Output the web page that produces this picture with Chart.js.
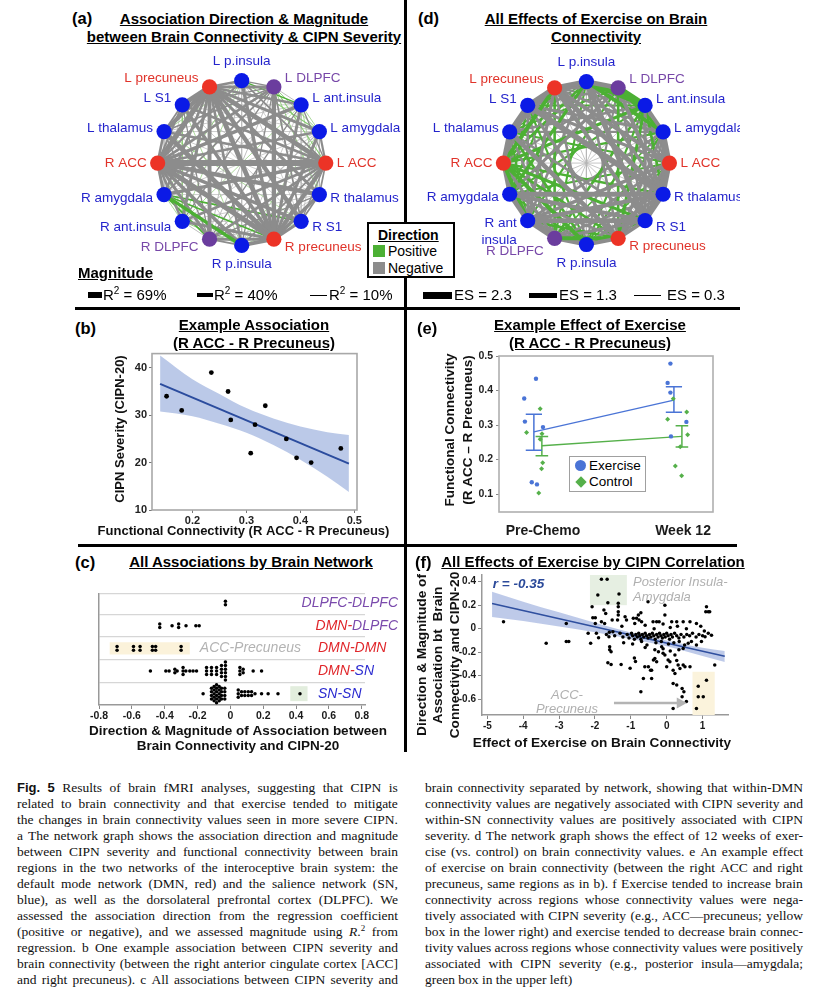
<!DOCTYPE html>
<html>
<head>
<meta charset="utf-8">
<script src="https://cdn.jsdelivr.net/npm/chart.js@4.4.1/dist/chart.umd.min.js"></script>
<style>
html,body{margin:0;padding:0;background:#fff;}
#page{position:relative;width:820px;height:998px;overflow:hidden;background:#fff;font-family:"Liberation Sans",Arial,Helvetica,sans-serif;color:#000;}
#page canvas{position:absolute;}
.t{position:absolute;white-space:nowrap;}
.ttl{font-weight:bold;font-size:15px;line-height:17.5px;text-decoration:underline;text-align:center;transform:translateX(-50%);}
.pl{font-weight:bold;font-size:16.5px;line-height:20px;}
.bar{position:absolute;background:#000;}
.lg{font-size:15px;line-height:16px;}
.lg sup{font-size:10px;line-height:0;vertical-align:6px;}
.cap{position:absolute;font-family:"Liberation Serif","Times New Roman",serif;font-size:13.5px;line-height:16px;color:#111;}
.cap .ln{display:flex;justify-content:space-between;height:16px;white-space:nowrap;}
.cap .ln.last{display:block;}
.cap b{font-family:"Liberation Sans",Arial,sans-serif;font-weight:bold;font-size:13px;}
.cap sup{font-size:9px;line-height:0;vertical-align:5px;}
.dirbox{position:absolute;left:367px;top:222px;width:84px;height:52px;border:2px solid #000;background:#fff;z-index:5;}
.sq{position:absolute;width:12px;height:12px;}
.elg{position:absolute;left:569px;top:456px;width:75px;height:34px;border:1.5px solid #a0a0a0;background:#fff;z-index:5;}
</style>
</head>
<body>
<div id="page">
  <!-- dividers -->
  <div class="bar" style="left:404px;top:0;width:3px;height:752px;"></div>
  <div class="bar" style="left:75px;top:307px;width:665px;height:3px;"></div>
  <div class="bar" style="left:78px;top:544px;width:659px;height:3px;"></div>

  <!-- panel labels and titles -->
  <div class="t pl" style="left:72px;top:8px;">(a)</div>
  <div class="t ttl" style="left:244px;top:10px;">Association Direction &amp; Magnitude<br>between Brain Connectivity &amp; CIPN Severity</div>
  <div class="t pl" style="left:418px;top:8px;">(d)</div>
  <div class="t ttl" style="left:596px;top:10px;">All Effects of Exercise on Brain<br>Connectivity</div>
  <div class="t pl" style="left:75px;top:318px;">(b)</div>
  <div class="t ttl" style="left:254px;top:316px;">Example Association<br>(R ACC - R Precuneus)</div>
  <div class="t pl" style="left:417px;top:318px;">(e)</div>
  <div class="t ttl" style="left:590px;top:316px;">Example Effect of Exercise<br>(R ACC - R Precuneus)</div>
  <div class="t pl" style="left:75px;top:552px;">(c)</div>
  <div class="t ttl" style="left:251px;top:553px;">All Associations by Brain Network</div>
  <div class="t pl" style="left:415px;top:552px;">(f)</div>
  <div class="t ttl" style="left:593px;top:553px;">All Effects of Exercise by CIPN Correlation</div>

  <!-- (a) legends -->
  <div class="t" style="left:78px;top:264px;font-weight:bold;font-size:15px;text-decoration:underline;">Magnitude</div>
  <div class="bar" style="left:88px;top:292px;width:14px;height:6px;"></div>
  <div class="t lg" style="left:103px;top:287px;">R<sup>2</sup> = 69%</div>
  <div class="bar" style="left:197px;top:293px;width:16px;height:4px;"></div>
  <div class="t lg" style="left:214px;top:287px;">R<sup>2</sup> = 40%</div>
  <div class="bar" style="left:310px;top:294.5px;width:17px;height:1px;"></div>
  <div class="t lg" style="left:329px;top:287px;">R<sup>2</sup> = 10%</div>
  <div class="dirbox">
    <div class="t" style="left:9px;top:3px;font-weight:bold;font-size:14px;text-decoration:underline;">Direction</div>
    <div class="sq" style="left:4px;top:21px;background:#4cb034;"></div>
    <div class="t" style="left:19px;top:19px;font-size:14px;">Positive</div>
    <div class="sq" style="left:4px;top:38px;background:#8c8c8c;"></div>
    <div class="t" style="left:19px;top:36px;font-size:14px;">Negative</div>
  </div>
  <!-- (d) legend -->
  <div class="bar" style="left:423px;top:291.5px;width:29px;height:7px;"></div>
  <div class="t lg" style="left:454px;top:287px;">ES = 2.3</div>
  <div class="bar" style="left:529px;top:293px;width:28px;height:4.5px;"></div>
  <div class="t lg" style="left:559px;top:287px;">ES = 1.3</div>
  <div class="bar" style="left:634px;top:294.5px;width:27px;height:1px;"></div>
  <div class="t lg" style="left:667px;top:287px;">ES = 0.3</div>

  <!-- (e) legend -->
  <div class="elg">
    <div style="position:absolute;left:5px;top:3px;width:11px;height:11px;border-radius:50%;background:#4a74d6;"></div>
    <div class="t" style="left:19px;top:1px;font-size:13.5px;line-height:16px;">Exercise</div>
    <div style="position:absolute;left:6.5px;top:21px;width:8px;height:8px;transform:rotate(45deg);background:#55b04a;"></div>
    <div class="t" style="left:19px;top:17px;font-size:13.5px;line-height:16px;">Control</div>
  </div>
</div>

<script>
// ---------------- DATA ----------------
// brain regions, placed around the circle in this order (index k -> angle k*22.5deg)
const NODE_NAMES = ['L ACC','L amygdala','L ant.insula','L DLPFC','L p.insula','L precuneus','L S1','L thalamus',
                    'R ACC','R amygdala','R ant.insula','R DLPFC','R p.insula','R precuneus','R S1','R thalamus'];
const NODE_NAMES_D = ['L ACC','L amygdala','L ant.insula','L DLPFC','L p.insula','L precuneus','L S1','L thalamus',
                    'R ACC','R amygdala',['R ant','insula'],'R DLPFC','R p.insula','R precuneus','R S1','R thalamus'];
const NODE_NET = ['DMN','SN','SN','DLPFC','SN','DMN','SN','SN','DMN','SN','SN','DLPFC','SN','DMN','SN','SN'];

// (a) signed R^2 (%) between node i and nodes j>i (positive = green, negative = gray)
const A_ASSOC = [
  [-25,-15, 12,-20,-55,-30,-30,-69,-40,-30,-30,-20,-50,-15,-20],
  [  8, 10, 12,-35, -8, -8,-30, -8, -6,-12,  6,-35, -6, -8],
  [-10, 15,-30, -6, -6,-40, -6,  8,-15, -6,-35, -8,  6],
  [-15,-35,-15,-20,-30,-20,-15,-10,-15,-50,-20, 10],
  [-30, -8,  8,-25, 10,  8,-10, -6,-40, -6, -8],
  [-55,-50,-60,-30,-35,-45,-30,-55,-50,-35],
  [-20,-25, -6,  6,-15,  8,-40, -6, -8],
  [-30, -8, -6,-15, -8,-55,  8, -6],
  [-35,-30,-35,-40,-60,-40,-50],
  [  8, 20, 40, 18, 20, -8],
  [-10, 10,-35, -6, -6],
  [-20,-35,-10,-15],
  [-45,  8, -8],
  [-35,-40],
  [-20]
];
// (d) signed effect size of exercise between node i and nodes j>i
const D_EFFECT = [
  [-1.8,-1.0,-0.8,-1.0,-1.5,-1.2, 0.8,-0.3, 0.8,-1.3,-1.0, 0.6,-1.5,-1.6,-1.8],
  [-1.5, 1.2, 1.4,-1.0,-1.2,-0.8, 0.9,-0.3,-1.0, 0.6, 0.8,-1.2,-0.8,-1.5],
  [ 2.2, 1.8,-0.8, 0.8,-1.0, 1.2, 0.8,-0.3, 1.0, 0.8, 1.2,-1.2, 1.0],
  [-1.8,-1.2,-1.0, 0.8,-0.8,-1.2, 0.8,-0.3,-0.8, 1.0,-1.0,-1.5],
  [-1.8,-1.2, 0.6, 1.0, 1.2,-1.0, 0.8,-0.3,-1.0,-2.0,-1.2],
  [-1.8,-1.5, 1.5, 0.8,-1.2, 1.0,-1.0,-0.3,-1.5,-2.0],
  [-1.8,-1.2, 0.9,-1.0,-0.8, 0.8,-1.2,-0.3,-2.2],
  [-1.8,-1.2, 0.8,-1.0, 1.0,-1.8,-1.0,-0.3],
  [-1.5, 1.5,-1.2, 1.5, 1.0, 1.2, 0.9],
  [-1.8,-1.2, 0.8,-1.0,-1.5,-2.0],
  [-1.8,-1.2, 1.0,-1.8,-1.5],
  [-1.5, 1.5,-1.2,-1.0],
  [-1.5, 0.8,-1.2],
  [-1.5,-1.0],
  [-1.8]
];

// (b) example association
const B_FC   = [0.152,0.180,0.235,0.266,0.271,0.308,0.316,0.335,0.374,0.393,0.420,0.475];
const B_CIPN = [34,31,39,35,29,22,28,32,25,21,20,23];
const B_FIT_X = [0.14,0.49];
const B_FIT_Y = [36.6,19.8];
const B_BAND_X  = [0.14,0.20,0.25,0.30,0.35,0.40,0.45,0.49];
const B_BAND_HI = [42.6,37.6,34.5,31.5,29.3,27.6,26.4,25.8];
const B_BAND_LO = [30.8,29.8,28.2,26.3,23.7,20.6,17.0,13.8];
const B_X_TICKS = [0.2,0.3,0.4,0.5];
const B_X_LABELS = ['0.2','0.3','0.4','0.5'];
const B_Y_TICKS = [10,20,30,40];
const B_Y_LABELS = ['10','20','30','40'];

// (e) example effect of exercise
const E_GROUPS = ['Pre-Chemo','Week 12'];
const EX_PRE = [0.377,0.310,0.434,0.134,0.128,0.294];
const EX_PRE_JIT = [-0.134,-0.129,-0.050,-0.080,-0.043,0.000];
const EX_W12 = [0.478,0.422,0.394,0.309,0.267];
const EX_W12_JIT = [-0.090,-0.110,-0.090,0.024,-0.086];
const CT_PRE = [0.278,0.347,0.275,0.259,0.191,0.173,0.103];
const CT_PRE_JIT = [-0.117,-0.020,-0.007,-0.020,-0.002,-0.010,-0.030];
const CT_W12 = [0.376,0.317,0.338,0.272,0.237,0.181,0.153];
const CT_W12_JIT = [-0.070,-0.110,0.026,0.033,-0.020,-0.055,-0.010];
const EX_MEAN = [0.280,0.372], EX_HI = [0.331,0.411], EX_LO = [0.227,0.337];
const CT_MEAN = [0.240,0.267], CT_HI = [0.267,0.298], CT_LO = [0.211,0.236];
const E_Y_TICKS = [0.1,0.2,0.3,0.4,0.5];
const E_Y_LABELS = ['0.1','0.2','0.3','0.4','0.5'];

// (c) associations by network: [value, number of stacked dots]
const C_ROWS = ['SN-SN','DMN-SN','DMN-DMN','DMN-DLPFC','DLPFC-DLPFC'];
const C_SN_SN = [[-0.166,1],[-0.115,4],[-0.099,5],[-0.084,6],[-0.068,5],[-0.054,4],[-0.034,4],[0.048,3],[0.068,2],[0.088,2],[0.109,2],[0.129,2],[0.150,1],[0.190,1],[0.230,1],[0.290,1],[0.424,1]];
const C_DMN_SN = [[-0.487,1],[-0.393,1],[-0.373,1],[-0.338,2],[-0.324,1],[-0.288,3],[-0.271,1],[-0.247,1],[-0.227,1],[-0.206,1],[-0.145,3],[-0.115,3],[-0.084,3],[-0.054,4],[-0.030,6],[0.058,3],[0.078,2],[0.139,1],[0.190,1]];
const C_DMN_DMN = [[-0.69,2],[-0.59,2],[-0.55,2],[-0.475,2],[-0.455,2],[-0.30,2]];
const C_DMN_DLPFC = [[-0.43,2],[-0.355,1],[-0.315,2],[-0.27,1],[-0.21,1],[-0.19,1]];
const C_DLPFC_DLPFC = [[-0.03,2]];
const C_X_TICKS = [-0.8,-0.6,-0.4,-0.2,0,0.2,0.4,0.6,0.8];
const C_X_LABELS = ['-0.8','-0.6','-0.4','-0.2','0','0.2','0.4','0.6','0.8'];

// (f) effect of exercise (x) vs association with CIPN-20 (y)
const F_POINTS = [
 [-4.55,0.06],[-2.8,0.045],[-3.36,-0.125],[-2.8,-0.11],[-2.73,-0.11],[-2.19,-0.04],[-2.12,-0.125],[-2.08,0.187],
 [-2.06,0.093],[-1.99,0.093],[-1.99,0.045],[-1.96,-0.04],[-1.9,-0.077],[-1.92,0.287],[-1.82,0.42],[-1.66,0.42],
 [-1.75,0.158],[-1.7,0.13],[-1.82,0.059],[-1.73,0.045],[-1.64,0.22],[-1.61,-0.069],[-1.59,-0.154],[-1.59,-0.18],
 [-1.55,-0.197],[-1.64,-0.29],[-1.55,-0.304],[-1.5,-0.026],
 [-1.33,0.295],[-1.35,0.216],[-1.35,0.187],[-1.35,0.144],[-1.35,0.116],[-1.52,0.073],[-1.37,0.073],[-1.16,0.102],
 [-1.12,0.073],[-0.93,0.088],[-0.89,0.045],[-0.84,0.088],[-0.77,0.073],[-0.7,0.059],[-0.79,0.116],[-0.72,0.136],
 [-0.38,0.059],[-0.28,0.059],[-0.21,0.059],[-0.05,0.116],[-0.05,0.2],[0.14,0.059],[0.28,0.059],[0.46,0.059],
 [-0.52,0.23],[0.83,0.045],[1.11,0.187],[1.16,0.144],[1.2,0.144],[1.09,0.144],
 [-1.27,-0.304],[-1.02,-0.338],[-0.9,-0.25],[-0.87,-0.28],[-0.65,-0.424],[-0.61,-0.325],[-0.51,-0.325],[-0.42,-0.353],
 [-0.45,-0.353],[-0.37,-0.267],[-0.33,-0.253],[-0.28,-0.282],[-0.42,-0.424],[-0.72,-0.538],[-0.33,-0.18],[-0.23,-0.197],
 [-0.14,-0.154],[-0.1,-0.21],[-0.05,-0.225],[0.0,-0.325],[0.04,-0.267],[0.09,-0.282],[0.18,-0.353],[0.23,-0.381],
 [0.28,-0.27],[0.32,-0.31],[0.37,-0.34],[0.18,-0.466],[0.28,-0.48],[0.46,-0.31],[0.51,-0.325],[0.43,-0.51],
 [0.48,-0.538],[0.43,-0.58],[0.18,-0.68],[0.55,-0.62],[0.65,-0.325],[0.83,-0.68],[0.88,-0.49],[0.88,-0.58],
 [1.02,-0.58],[1.11,-0.44],[1.34,-0.31],[0.23,-0.225],[0.34,-0.18],[0.46,-0.168],
 [0.6,-0.125],[0.69,-0.11],[0.83,-0.14],[0.97,-0.11],[1.07,-0.069],[1.16,-0.04],[1.25,-0.055],
 [-1.68,-0.05],[-1.6,-0.03],[-1.45,-0.06],[-1.3,-0.04],[-1.22,-0.07],[-1.1,-0.05],[-1.05,-0.08],[-0.98,-0.04],
 [-0.95,-0.06],[-0.9,-0.09],[-0.86,-0.05],[-0.82,-0.07],[-0.78,-0.04],[-0.75,-0.06],[-0.72,-0.09],[-0.68,-0.05],
 [-0.64,-0.07],[-0.6,-0.04],[-0.56,-0.06],[-0.52,-0.08],[-0.48,-0.05],[-0.44,-0.07],[-0.4,-0.04],[-0.36,-0.06],
 [-0.32,-0.09],[-0.28,-0.05],[-0.24,-0.07],[-0.2,-0.04],[-0.16,-0.06],[-0.12,-0.08],[-0.08,-0.05],[-0.04,-0.07],
 [0.0,-0.04],[0.04,-0.06],[0.08,-0.09],[0.12,-0.05],[0.16,-0.07],[0.22,-0.04],[0.28,-0.06],[0.34,-0.08],
 [0.4,-0.05],[0.48,-0.07],[0.56,-0.05],[0.64,-0.06],[0.72,-0.04],[0.82,-0.07],[0.9,-0.05],[1.0,-0.06],
 [-1.2,-0.12],[-0.95,-0.13],[-0.7,-0.11],[-0.55,-0.14],[-0.3,-0.12],[-0.15,-0.11],[0.05,-0.13],[0.2,-0.12],
 [0.35,-0.11],[0.5,-0.14],[-0.6,-0.16],[-0.1,-0.17],[0.1,-0.19],
 [-1.25,0.02],[-0.6,0.03],[-0.35,0.0],[0.1,0.01],[0.3,0.02],[0.55,0.0],[-0.1,0.04],[0.65,0.06],[0.95,0.02],[1.05,-0.02]
];
const F_FIT_X = [-4.87,1.62];
const F_FIT_Y = [0.215,-0.235];
const F_BAND_X  = [-4.87,-4,-3,-2,-1,0,1,1.62];
const F_BAND_HI = [0.315,0.23,0.139,0.05,-0.033,-0.100,-0.163,-0.190];
const F_BAND_LO = [0.100,0.066,0.019,-0.03,-0.087,-0.150,-0.233,-0.283];
const F_R_LABEL = 'r = -0.35';
const F_X_TICKS = [-5,-4,-3,-2,-1,0,1];
const F_X_LABELS = ['-5','-4','-3','-2','-1','0','1'];
const F_Y_TICKS = [-0.6,-0.4,-0.2,0,0.2,0.4];
const F_Y_LABELS = ['-0.6','-0.4','-0.2','0','0.2','0.4'];

// caption
const CAP_L = [
 '<b>Fig.</b> <b>5</b> Results of brain fMRI analyses, suggesting that CIPN is',
 'related to brain connectivity and that exercise tended to mitigate',
 'the changes in brain connectivity values seen in more severe CIPN.',
 'a The network graph shows the association direction and magnitude',
 'between CIPN severity and functional connectivity between brain',
 'regions in the two networks of the interoceptive brain system: the',
 'default mode network (DMN, red) and the salience network (SN,',
 'blue), as well as the dorsolateral prefrontal cortex (DLPFC). We',
 'assessed the association direction from the regression coefficient',
 '(positive or negative), and we assessed magnitude using <i>R</i>.<sup>2</sup> from',
 'regression. b One example association between CIPN severity and',
 'brain connectivity (between the right anterior cingulate cortex [ACC]',
 'and right precuneus). c All associations between CIPN severity and'
];
const CAP_R = [
 'brain connectivity separated by network, showing that within-DMN',
 'connectivity values are negatively associated with CIPN severity and',
 'within-SN connectivity values are positively associated with CIPN',
 'severity. d The network graph shows the effect of 12 weeks of exer-',
 'cise (vs. control) on brain connectivity values. e An example effect',
 'of exercise on brain connectivity (between the right ACC and right',
 'precuneus, same regions as in b). f Exercise tended to increase brain',
 'connectivity across regions whose connectivity values were nega-',
 'tively associated with CIPN severity (e.g., ACC\u2014precuneus; yellow',
 'box in the lower right) and exercise tended to decrease brain connec-',
 'tivity values across regions whose connectivity values were positively',
 'associated with CIPN severity (e.g., posterior insula\u2014amygdala;',
 'green box in the upper left)'
];

// ---------------- STYLE / HELPERS ----------------
const FONT = "'Liberation Sans', Arial, Helvetica, sans-serif";
Chart.defaults.font.family = FONT;
Chart.defaults.color = '#1a1a1a';
Chart.defaults.animation = false;
Chart.defaults.events = [];
Chart.defaults.plugins.legend.display = false;
Chart.defaults.plugins.tooltip.enabled = false;

const NODE_COLOR = {DMN:'#ec3326', SN:'#0b1ae6', DLPFC:'#6b3d9e'};
const LABEL_COLOR = {DMN:'#e0332a', SN:'#2424cc', DLPFC:'#7747a8'};
const NET_TEXT = {DMN:'#e0262a', SN:'#2b2bd0', DLPFC:'#7a4aac'};
const POS_COLOR = '#4cb034', POS_LIGHT = '#86c970';
const NEG_COLOR = '#8c8c8c', NEG_LIGHT = '#b4b4b4';
const page = document.getElementById('page');

function mk(L,T,W,H){
  const c = document.createElement('canvas');
  c.width = W; c.height = H;
  c.style.left = L+'px'; c.style.top = T+'px'; c.style.width = W+'px'; c.style.height = H+'px';
  page.insertBefore(c, page.firstChild);
  return c;
}
function frame(L,T,W,H,x1,y1,x2,y2){
  return {padding:{left:0,top:y1-T,right:L+W-x2,bottom:0}, yw:x1-L, xh:T+H-y2};
}
function fixedTicks(vals){ return function(s){ s.ticks = vals.map(v=>({value:v})); }; }
const boxPlugin = (color,w)=>({id:'box', afterDatasetsDraw(chart){
  const a = chart.chartArea, ctx = chart.ctx; ctx.save(); ctx.strokeStyle = color; ctx.lineWidth = w;
  ctx.strokeRect(a.left, a.top, a.right-a.left, a.bottom-a.top); ctx.restore(); }});
// axis titles drawn at page positions (cx, cy = centre of the text block), no width squeezing
function axisTitles(L,T,items){
  return {id:'axisTitles', afterDraw(chart){
    const ctx = chart.ctx;
    items.forEach(it=>{
      ctx.save();
      ctx.font = it.font; ctx.fillStyle = '#111'; ctx.textAlign = 'center'; ctx.textBaseline = 'middle';
      ctx.translate(it.cx-L, it.cy-T);
      if (it.rot) ctx.rotate(-Math.PI/2);
      const n = it.lines.length;
      it.lines.forEach((t,i)=>ctx.fillText(t, 0, (i-(n-1)/2)*it.lh));
      ctx.restore();
    });
  }};
}
function annotPlugin(spec){
  return {id:'annot',
    beforeDatasetsDraw(chart){
      const xs = chart.scales.x, ys = chart.scales.y, ctx = chart.ctx; ctx.save();
      (spec.rects||[]).forEach(r=>{
        const x0 = xs.getPixelForValue(r.x0), x1 = xs.getPixelForValue(r.x1);
        const y0 = ys.getPixelForValue(r.y1), y1 = ys.getPixelForValue(r.y0);
        ctx.fillStyle = r.color; ctx.fillRect(x0, y0, x1-x0, y1-y0);
      });
      ctx.restore();
    },
    afterDatasetsDraw(chart){
      const xs = chart.scales.x, ys = chart.scales.y, ctx = chart.ctx; ctx.save();
      (spec.arrows||[]).forEach(a=>{
        const x0 = xs.getPixelForValue(a.x0), x1 = xs.getPixelForValue(a.x1), y = ys.getPixelForValue(a.y);
        ctx.strokeStyle = a.color; ctx.fillStyle = a.color; ctx.lineWidth = 2.5;
        ctx.beginPath(); ctx.moveTo(x0,y); ctx.lineTo(x1-8,y); ctx.stroke();
        ctx.beginPath(); ctx.moveTo(x1,y); ctx.lineTo(x1-10,y-5.5); ctx.lineTo(x1-10,y+5.5); ctx.closePath(); ctx.fill();
      });
      (spec.texts||[]).forEach(t=>{
        ctx.font = t.font; ctx.fillStyle = t.color; ctx.textAlign = t.align||'left'; ctx.textBaseline = 'middle';
        ctx.fillText(t.text, xs.getPixelForValue(t.x), ys.getPixelForValue(t.y));
      });
      ctx.restore();
    }};
}

// ---------------- NETWORK GRAPHS (a) and (d) ----------------
function networkChart(L,T,W,H,cx,cy,R,names,matrix,unitWidth,nudge){
  const n = names.length;
  const nodes = names.map((_,k)=>({x:Math.cos(2*Math.PI*k/n), y:Math.sin(2*Math.PI*k/n)}));
  const edges = [];
  matrix.forEach((row,i)=>row.forEach((v,m)=>edges.push({a:i,b:i+1+m,v})));
  edges.sort((p,q)=>Math.abs(p.v)-Math.abs(q.v));
  const ds = edges.map((e,r)=>{
    const w = Math.max(0.7, Math.abs(e.v)*unitWidth);
    const thin = w < 1.3;
    return {
      type:'line', data:[nodes[e.a], nodes[e.b]],
      borderColor: e.v>0 ? (thin ? POS_LIGHT : POS_COLOR) : (thin ? NEG_LIGHT : NEG_COLOR),
      borderWidth: w, pointRadius:0, fill:false, tension:0, order: edges.length - r + 1
    };
  });
  ds.push({type:'scatter', data:nodes, pointRadius:7.6, pointBorderWidth:0,
           pointBackgroundColor: NODE_NET.map(k=>NODE_COLOR[k]), order:0});
  const labels = {id:'nodeLabels', afterDatasetsDraw(chart){
    const ctx = chart.ctx, xs = chart.scales.x, ys = chart.scales.y;
    ctx.save(); ctx.font = "13.5px "+FONT; ctx.textBaseline = 'middle';
    names.forEach((nm,k)=>{
      const c = nodes[k].x, s = nodes[k].y;
      const px = xs.getPixelForValue(c), py = ys.getPixelForValue(s);
      const lines = Array.isArray(nm) ? nm : [nm];
      let tx, ty;
      if (Math.abs(c) > 0.3){ ctx.textAlign = c>0 ? 'left' : 'right'; tx = px + (c>0 ? 11 : -11); ty = py - s*9; }
      else { ctx.textAlign = 'center'; tx = px; ty = py - s*19; }
      ty += (nudge && nudge[k]) || 0;
      ctx.fillStyle = LABEL_COLOR[NODE_NET[k]];
      const lh = 16.5, y0 = ty - (lines.length-1)*lh/2;
      lines.forEach((t,li)=>ctx.fillText(t, tx, y0 + li*lh));
    });
    ctx.restore();
  }};
  new Chart(mk(L,T,W,H), {
    type:'scatter',
    data:{datasets:ds},
    options:{responsive:false, maintainAspectRatio:false, layout:{padding:0},
      scales:{
        x:{type:'linear', display:false, min:-(cx-L)/R, max:(L+W-cx)/R},
        y:{type:'linear', display:false, min:-(T+H-cy)/R, max:(cy-T)/R}
      }},
    plugins:[labels]
  });
}
networkChart(66,45,339,238,242,163,88,NODE_NAMES,A_ASSOC,1/11.5,null);
networkChart(408,45,332,238,587,163,87,NODE_NAMES_D,D_EFFECT,2.6,{10:5,11:5});

// ---------------- (b) ----------------
(function(){
  const L=70,T=345,W=335,H=200, g = frame(L,T,W,H,152,353,357,510);
  new Chart(mk(L,T,W,H), {
    type:'scatter',
    data:{datasets:[
      {type:'line', data:B_BAND_X.map((x,i)=>({x,y:B_BAND_HI[i]})), borderWidth:0, pointRadius:0,
       fill:'+1', backgroundColor:'rgba(170,188,226,0.8)', cubicInterpolationMode:'monotone', order:3},
      {type:'line', data:B_BAND_X.map((x,i)=>({x,y:B_BAND_LO[i]})), borderWidth:0, pointRadius:0,
       fill:false, cubicInterpolationMode:'monotone', order:4},
      {type:'line', data:B_FIT_X.map((x,i)=>({x,y:B_FIT_Y[i]})), borderColor:'#2b4c9e', borderWidth:2, pointRadius:0, fill:false, order:2},
      {data:B_FC.map((x,i)=>({x,y:B_CIPN[i]})), pointRadius:2.4, pointBackgroundColor:'#000', pointBorderWidth:0, order:1}
    ]},
    options:{responsive:false, maintainAspectRatio:false, layout:{padding:g.padding},
      scales:{
        x:{type:'linear', min:0.125, max:0.505, afterBuildTicks:fixedTicks(B_X_TICKS), afterFit:s=>{s.height=g.xh;},
           ticks:{callback:(v,i)=>B_X_LABELS[i], font:{size:11,weight:'bold'}, padding:1, maxRotation:0, color:'#222'},
           grid:{drawOnChartArea:false, tickLength:3, color:'#777'}, border:{display:false}},
        y:{type:'linear', min:10, max:43, afterBuildTicks:fixedTicks(B_Y_TICKS), afterFit:s=>{s.width=g.yw;},
           ticks:{callback:(v,i)=>B_Y_LABELS[i], font:{size:11,weight:'bold'}, padding:2, color:'#222'},
           grid:{drawOnChartArea:false, tickLength:3, color:'#777'}, border:{display:false}}
      }},
    plugins:[boxPlugin('#a8a8a8',1.6), axisTitles(L,T,[
      {lines:['Functional Connectivity (R ACC - R Precuneus)'], cx:243.5, cy:531, font:"bold 13px "+FONT, lh:15},
      {lines:['CIPN Severity (CIPN-20)'], cx:120, cy:429, rot:true, font:"bold 13px "+FONT, lh:15}
    ])]
  });
})();

// ---------------- (e) ----------------
(function(){
  const L=420,T=345,W=315,H=200, g = frame(L,T,W,H,499,356,713,512);
  const EXO = -0.065, CTO = -0.008;
  const pts = (vals,jit,grp)=>vals.map((v,i)=>({x:grp+jit[i], y:v}));
  function errBars(off, hi, lo, cap){
    const out = [];
    [0,1].forEach(gi=>{
      const xc = gi+off;
      out.push({x:xc,y:lo[gi]},{x:xc,y:hi[gi]},{x:xc,y:null},
               {x:xc-cap,y:hi[gi]},{x:xc+cap,y:hi[gi]},{x:xc,y:null},
               {x:xc-cap,y:lo[gi]},{x:xc+cap,y:lo[gi]},{x:xc,y:null});
    });
    return out;
  }
  new Chart(mk(L,T,W,H), {
    type:'scatter',
    data:{datasets:[
      {type:'line', data:errBars(EXO,EX_HI,EX_LO,0.058), borderColor:'#4a74d6', borderWidth:1.5, pointRadius:0, spanGaps:false, fill:false, order:3},
      {type:'line', data:errBars(CTO,CT_HI,CT_LO,0.045), borderColor:'#55b04a', borderWidth:1.5, pointRadius:0, spanGaps:false, fill:false, order:3},
      {type:'line', data:EX_MEAN.map((m,i)=>({x:i+EXO,y:m})), borderColor:'#4a74d6', borderWidth:1.3, pointRadius:0, fill:false, order:2},
      {type:'line', data:CT_MEAN.map((m,i)=>({x:i+CTO,y:m})), borderColor:'#55b04a', borderWidth:1.3, pointRadius:0, fill:false, order:2},
      {data:pts(EX_PRE,EX_PRE_JIT,0).concat(pts(EX_W12,EX_W12_JIT,1)), pointRadius:2.2, pointBackgroundColor:'#4a74d6', pointBorderWidth:0, order:1},
      {data:pts(CT_PRE,CT_PRE_JIT,0).concat(pts(CT_W12,CT_W12_JIT,1)), pointStyle:'rectRot', pointRadius:2.5, pointBackgroundColor:'#55b04a', pointBorderWidth:0, order:1}
    ]},
    options:{responsive:false, maintainAspectRatio:false, layout:{padding:g.padding},
      scales:{
        x:{type:'linear', min:-0.314, max:1.214, afterBuildTicks:fixedTicks([0,1]), afterFit:s=>{s.height=g.xh;},
           ticks:{callback:(v,i)=>E_GROUPS[i], font:{size:14,weight:'bold'}, padding:3, maxRotation:0, color:'#1a1a1a'},
           grid:{display:false}, border:{display:false}},
        y:{type:'linear', min:0.048, max:0.5, afterBuildTicks:fixedTicks(E_Y_TICKS), afterFit:s=>{s.width=g.yw;},
           ticks:{callback:(v,i)=>E_Y_LABELS[i], font:{size:10.5,weight:'bold'}, padding:3, color:'#222'},
           grid:{drawOnChartArea:false, tickLength:3, color:'#888'}, border:{display:false}}
      }},
    plugins:[boxPlugin('#b0b0b0',1.6), axisTitles(L,T,[
      {lines:['Functional Connectivity','(R ACC \u2013 R Precuneus)'], cx:459, cy:430, rot:true, font:"bold 13.5px "+FONT, lh:18}
    ])]
  });
})();

// ---------------- (c) ----------------
(function(){
  const L=65,T=585,W=340,H=170, g = frame(L,T,W,H,99,594,365,705);
  const YMIN=0, YMAX=4.9;
  const step = 3.6*(YMAX-YMIN)/(705-594);
  const rowsData = [C_SN_SN, C_DMN_SN, C_DMN_DMN, C_DMN_DLPFC, C_DLPFC_DLPFC];
  const pts = [];
  rowsData.forEach((row,r)=>row.forEach(([v,cnt])=>{
    for (let k=0;k<cnt;k++) pts.push({x:v, y:r+0.5+(k-(cnt-1)/2)*step});
  }));
  const rowLabels = {id:'rowLabels', afterDatasetsDraw(chart){
    const ctx = chart.ctx, ys = chart.scales.y; ctx.save();
    ctx.font = "italic 14px "+FONT; ctx.textBaseline='middle'; ctx.textAlign='left';
    C_ROWS.forEach((name,r)=>{
      const parts = name.split('-');
      const segs = [{t:parts[0]+'-', c:NET_TEXT[parts[0]]},{t:parts[1], c:NET_TEXT[parts[1]]}];
      const w = segs.reduce((s,q)=>s+ctx.measureText(q.t).width,0);
      let x = Math.min(318-L, 398-L-w); const y = ys.getPixelForValue(r+0.5);
      segs.forEach(q=>{ ctx.fillStyle=q.c; ctx.fillText(q.t,x,y); x += ctx.measureText(q.t).width; });
    });
    ctx.restore();
  }};
  new Chart(mk(L,T,W,H), {
    type:'scatter',
    data:{datasets:[{data:pts, pointRadius:1.75, pointBackgroundColor:'#000', pointBorderWidth:0}]},
    options:{responsive:false, maintainAspectRatio:false, layout:{padding:g.padding},
      scales:{
        x:{type:'linear', min:-0.8, max:0.82, afterBuildTicks:fixedTicks(C_X_TICKS), afterFit:s=>{s.height=g.xh;},
           ticks:{callback:(v,i)=>C_X_LABELS[i], font:{size:10.5,weight:'bold'}, padding:1, maxRotation:0, color:'#1a1a1a'},
           grid:{drawOnChartArea:false, tickLength:4, color:'#888'}, border:{display:true, color:'#999', width:1.5}},
        y:{type:'linear', min:YMIN, max:YMAX, afterBuildTicks:fixedTicks([1,2,3,4,4.9]), afterFit:s=>{s.width=g.yw;},
           ticks:{display:false}, grid:{color:'#d6d6d6', lineWidth:1.3, drawTicks:false},
           border:{display:true, color:'#999', width:1.5}}
      }},
    plugins:[annotPlugin({
      rects:[{x0:-0.735,x1:-0.247,y0:2.23,y1:2.77,color:'#fbf2da'},
             {x0:0.365,x1:0.47,y0:0.17,y1:0.83,color:'#e2eddd'}],
      texts:[{x:-0.186,y:2.5,text:'ACC-Precuneus',color:'#b3b3b3',font:"italic 14px "+FONT}]
    }), rowLabels, axisTitles(L,T,[
      {lines:['Direction & Magnitude of Association between','Brain Connectivity and CIPN-20'], cx:238, cy:739, font:"bold 13.5px "+FONT, lh:14.5}
    ])]
  });
})();

// ---------------- (f) ----------------
(function(){
  const L=410,T=565,W=330,H=190, g = frame(L,T,W,H,482,575,728,715);
  new Chart(mk(L,T,W,H), {
    type:'scatter',
    data:{datasets:[
      {type:'line', data:F_BAND_X.map((x,i)=>({x,y:F_BAND_HI[i]})), borderWidth:0, pointRadius:0,
       fill:'+1', backgroundColor:'rgba(165,182,224,0.72)', cubicInterpolationMode:'monotone', order:3},
      {type:'line', data:F_BAND_X.map((x,i)=>({x,y:F_BAND_LO[i]})), borderWidth:0, pointRadius:0,
       fill:false, cubicInterpolationMode:'monotone', order:4},
      {type:'line', data:F_FIT_X.map((x,i)=>({x,y:F_FIT_Y[i]})), borderColor:'#2f4f9f', borderWidth:1.5, pointRadius:0, fill:false, order:2},
      {data:F_POINTS.map(p=>({x:p[0],y:p[1]})), pointRadius:1.75, pointBackgroundColor:'#000', pointBorderWidth:0, order:1}
    ]},
    options:{responsive:false, maintainAspectRatio:false, layout:{padding:g.padding},
      scales:{
        x:{type:'linear', min:-5.15, max:1.71, afterBuildTicks:fixedTicks(F_X_TICKS), afterFit:s=>{s.height=g.xh;},
           ticks:{callback:(v,i)=>F_X_LABELS[i], font:{size:10,weight:'bold'}, padding:1, maxRotation:0, color:'#1a1a1a'},
           grid:{drawOnChartArea:false, tickLength:4, color:'#888'}, border:{display:true, color:'#999', width:1.5}},
        y:{type:'linear', min:-0.735, max:0.457, afterBuildTicks:fixedTicks(F_Y_TICKS), afterFit:s=>{s.width=g.yw;},
           ticks:{callback:(v,i)=>F_Y_LABELS[i], font:{size:10,weight:'bold'}, padding:2, color:'#1a1a1a'},
           grid:{drawOnChartArea:false, tickLength:4, color:'#888'}, border:{display:true, color:'#999', width:1.5}}
      }},
    plugins:[annotPlugin({
      rects:[{x0:-2.14,x1:-1.11,y0:0.2,y1:0.457,color:'#e6efe2'},
             {x0:0.72,x1:1.34,y0:-0.735,y1:-0.367,color:'#fbf3dc'}],
      arrows:[{x0:-1.47,x1:0.56,y:-0.633,color:'#b4b4b4'}],
      texts:[{x:-4.85,y:0.382,text:F_R_LABEL,color:'#2b4a9a',font:"italic bold 13.5px "+FONT},
             {x:-0.94,y:0.397,text:'Posterior Insula-',color:'#b0b0b0',font:"italic 13px "+FONT},
             {x:-0.94,y:0.27,text:'Amygdala',color:'#b0b0b0',font:"italic 13px "+FONT},
             {x:-2.78,y:-0.566,text:'ACC-',color:'#b0b0b0',font:"italic 13px "+FONT,align:'center'},
             {x:-2.78,y:-0.685,text:'Precuneus',color:'#b0b0b0',font:"italic 13px "+FONT,align:'center'}]
    }), axisTitles(L,T,[
      {lines:['Effect of Exercise on Brain Connectivity'], cx:602, cy:743, font:"bold 13.6px "+FONT, lh:16},
      {lines:['Direction & Magnitude of','Association bt  Brain','Connectivity and CIPN-20'], cx:438.5, cy:655, rot:true, font:"bold 13.7px "+FONT, lh:16.5}
    ])]
  });
})();

// ---------------- caption ----------------
function capCol(lines, left, width){
  const col = document.createElement('div');
  col.className = 'cap'; col.style.left = left+'px'; col.style.top = '780px'; col.style.width = width+'px';
  lines.forEach((ln,i)=>{
    const d = document.createElement('div');
    const isLast = (lines === CAP_R && i === lines.length-1);
    d.className = 'ln' + (isLast ? ' last' : '');
    d.innerHTML = isLast ? ln : ln.split(' ').map(w=>'<span>'+w+'</span>').join('');
    col.appendChild(d);
  });
  page.appendChild(col);
}
capCol(CAP_L, 17, 381);
capCol(CAP_R, 425, 378);
</script>
</body>
</html>
